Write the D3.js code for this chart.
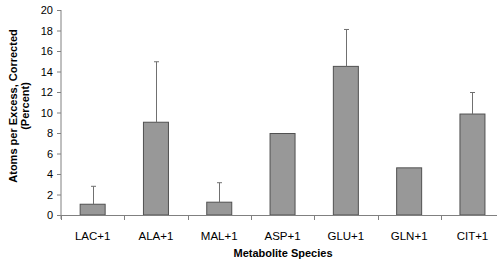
<!DOCTYPE html>
<html><head><meta charset="utf-8">
<script src="https://cdn.jsdelivr.net/npm/d3@7"></script>
<style>body{margin:0;background:#fff}svg{display:block}</style>
</head><body>
<script>
const categories = ["LAC+1","ALA+1","MAL+1","ASP+1","GLU+1","GLN+1","CIT+1"];
const values = [1.05, 9.05, 1.25, 7.95, 14.5, 4.6, 9.85];
const errors = [1.75, 5.9, 1.9, 0, 3.6, 0, 2.1];
const yTicks = [0,2,4,6,8,10,12,14,16,18,20];

const W = 500, H = 266;
const svg = d3.select("body").append("svg").attr("width", W).attr("height", H);
const x0 = 61, bandW = 63.3;
const x = d3.scaleBand().domain(categories).range([x0, x0 + bandW * categories.length]).paddingInner(0).paddingOuter(0);
const y = d3.scaleLinear().domain([0, 20]).range([215, 10]);
const barW = 25;
const font = "'Liberation Sans', Arial, sans-serif";

// y axis
const yAxis = d3.axisLeft(y).tickValues(yTicks).tickSize(4).tickPadding(4);
const gy = svg.append("g").attr("transform", `translate(${x0},0)`).call(yAxis);
gy.select(".domain").attr("stroke", "#808080").attr("d", `M0,${y(20)}V${y(0) + 4}`);
gy.selectAll(".tick line").attr("stroke", "#808080");
gy.selectAll(".tick text").attr("font-family", font).attr("font-size", 11).attr("fill", "#000");

// bars
svg.selectAll("rect.bar").data(categories).join("rect")
  .attr("class", "bar")
  .attr("x", (d) => x(d) + x.bandwidth() / 2 - barW / 2)
  .attr("y", (d, i) => y(values[i]))
  .attr("width", barW)
  .attr("height", (d, i) => y(0) - y(values[i]))
  .attr("fill", "#989898").attr("stroke", "#505050").attr("stroke-width", 1);

// error bars (upper only)
const eg = svg.append("g").attr("stroke", "#707070").attr("stroke-width", 1);
categories.forEach((c, i) => {
  if (!errors[i]) return;
  const cx = Math.round(x(c) + x.bandwidth() / 2) + 0.5;
  const top = y(values[i] + errors[i]);
  eg.append("line").attr("x1", cx).attr("x2", cx).attr("y1", y(values[i])).attr("y2", top);
  eg.append("line").attr("x1", cx - 2.5).attr("x2", cx + 2.5).attr("y1", top).attr("y2", top);
});

// x axis
const xg = svg.append("g");
xg.append("line").attr("x1", x0).attr("x2", 497).attr("y1", y(0) + 0.5).attr("y2", y(0) + 0.5).attr("stroke", "#808080");
const bounds = categories.map(c => x(c));
xg.selectAll("line.tk").data(bounds).join("line").attr("class", "tk")
  .attr("x1", d => Math.round(d) + 0.5).attr("x2", d => Math.round(d) + 0.5)
  .attr("y1", y(0)).attr("y2", y(0) + 5).attr("stroke", "#808080");
xg.selectAll("text").data(categories).join("text")
  .attr("x", d => x(d) + x.bandwidth() / 2)
  .attr("y", 240)
  .attr("text-anchor", "middle")
  .attr("font-family", font).attr("font-size", 11.5).attr("fill", "#000")
  .text(d => d);

// axis titles
svg.append("text").attr("x", 283).attr("y", 257).attr("text-anchor", "middle")
  .attr("font-family", font).attr("font-size", 11).attr("font-weight", "bold").text("Metabolite Species");
const yl = svg.append("text").attr("transform", "translate(17,106) rotate(-90)")
  .attr("text-anchor", "middle").attr("font-family", font).attr("font-size", 11).attr("font-weight", "bold");
yl.append("tspan").attr("x", 0).attr("dy", 0).text("Atoms per Excess, Corrected");
yl.append("tspan").attr("x", 0).attr("dy", 12).text("(Percent)");
</script>
</body></html>
